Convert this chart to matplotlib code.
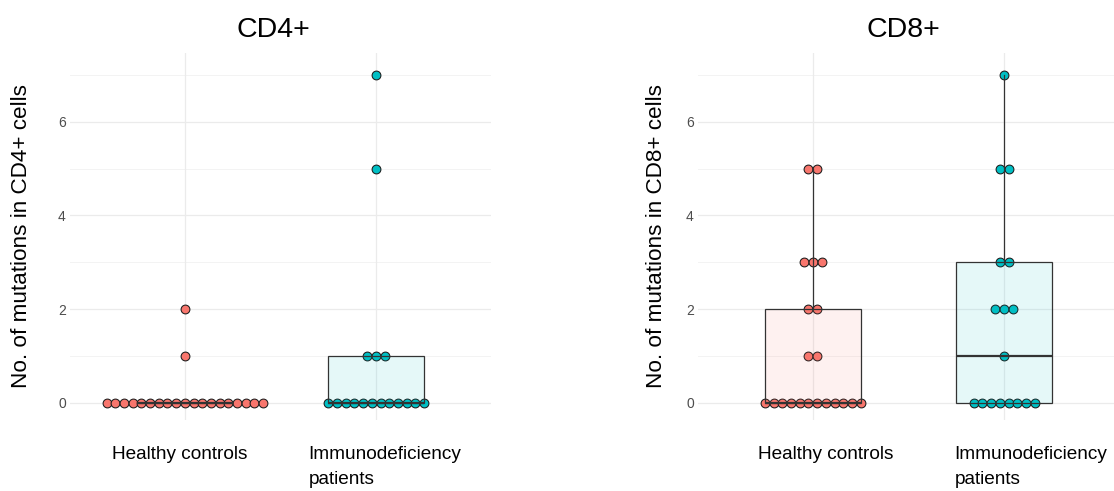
import numpy as np
import matplotlib
matplotlib.use("Agg")
import matplotlib.pyplot as plt
import matplotlib.transforms as mtransforms
from collections import Counter

plt.rcParams['font.family'] = ['Liberation Sans', 'DejaVu Sans']

groups = ["Healthy controls", "Immunodeficiency\npatients"]
group_colors = ["#F8766D", "#00BFC4"]

cd4_healthy = [0, 0, 0, 0, 0, 0, 0, 0, 0, 0, 0, 0, 0, 0, 0, 0, 0, 0, 0, 1, 2]
cd4_immuno = [0, 0, 0, 0, 0, 0, 0, 0, 0, 0, 0, 0, 1, 1, 1, 5, 7]
cd8_healthy = [0, 0, 0, 0, 0, 0, 0, 0, 0, 0, 0, 0, 1, 1, 2, 2, 3, 3, 3, 5, 5]
cd8_immuno = [0, 0, 0, 0, 0, 0, 0, 0, 1, 2, 2, 2, 3, 3, 5, 5, 7]

panels = [
    ("CD4+", "No. of mutations in CD4+ cells", [cd4_healthy, cd4_immuno]),
    ("CD8+", "No. of mutations in CD8+ cells", [cd8_healthy, cd8_immuno]),
]

W, H, DPI = 1114, 491, 100
fig = plt.figure(figsize=(W / DPI, H / DPI), dpi=DPI)

XLIM = (0.4, 2.6)
YLIM = (-0.37, 7.47)
ax_w_px = 421
ax_h_px = 367
ax_bottom_px = 420

# per-panel layout (pixels): axes left, y-label centre, title centre, x-label shifts
layout = [
    dict(left=70, ylab_x=22, title_x=273, label_shift=[-5, 9]),
    dict(left=698, ylab_x=657, title_x=903, label_shift=[13, 27]),
]

dot_px = 8.8
dot_size = (dot_px * 72 / DPI) ** 2

for (title, ylabel, data), lay in zip(panels, layout):
    left_px = lay["left"]
    ax = fig.add_axes([left_px / W, (H - ax_bottom_px) / H, ax_w_px / W, ax_h_px / H])
    ax.set_xlim(*XLIM)
    ax.set_ylim(*YLIM)

    step = 8.7 / (ax_w_px / (XLIM[1] - XLIM[0]))

    # grid (theme_minimal look)
    for y in [0, 2, 4, 6]:
        ax.axhline(y, color="#EBEBEB", lw=0.9, zorder=0)
    for y in [1, 3, 5, 7]:
        ax.axhline(y, color="#F3F3F3", lw=0.7, zorder=0)
    for x in [1, 2]:
        ax.axvline(x, color="#EBEBEB", lw=0.9, zorder=0)

    # centred dot stacks
    for gi, (vals, col) in enumerate(zip(data, group_colors)):
        pos = gi + 1
        counts = Counter(vals)
        xs, ys = [], []
        for v, n in sorted(counts.items()):
            for i in range(n):
                xs.append(pos + (i - (n - 1) / 2) * step)
                ys.append(v)
        ax.scatter(xs, ys, s=dot_size, facecolor=col, edgecolor="#1a1a1a",
                   linewidth=0.75, zorder=3)

    # boxplots on top of the dots
    bp = ax.boxplot(data, positions=[1, 2], widths=0.5, whis=1.5,
                    showfliers=False, showcaps=False, patch_artist=True,
                    zorder=4)
    for patch, col in zip(bp["boxes"], group_colors):
        patch.set_facecolor(matplotlib.colors.to_rgba(col, 0.1))
        patch.set_edgecolor("#333333")
        patch.set_linewidth(0.9)
    for w in bp["whiskers"]:
        w.set_color("#333333")
        w.set_linewidth(0.9)
    for m in bp["medians"]:
        m.set_color("#333333")
        m.set_linewidth(1.6)

    # category labels below the panel
    ax.set_xticks([1, 2])
    ax.set_xticklabels([])
    base = mtransforms.blended_transform_factory(ax.transData, ax.transAxes)
    for pos, (name, dx) in enumerate(zip(groups, lay["label_shift"]), start=1):
        tr = base + mtransforms.ScaledTranslation(dx / DPI, -26 / DPI, fig.dpi_scale_trans)
        ax.text(pos, 0, name, transform=tr, fontsize=13.7, color="black",
                ha="center", va="top", multialignment="left", linespacing=1.62)

    ax.set_yticks([0, 2, 4, 6])
    ax.set_yticklabels(["0", "2", "4", "6"], fontsize=10, color="#4D4D4D")
    ax.tick_params(axis="both", length=0)
    ax.tick_params(axis="y", pad=3)
    for s in ax.spines.values():
        s.set_visible(False)
    ax.set_xlim(*XLIM)
    ax.set_ylim(*YLIM)

    ax.set_ylabel(ylabel, fontsize=16.2)
    ax.yaxis.label.set_va("center")
    ax.yaxis.set_label_coords((lay["ylab_x"] - left_px) / ax_w_px, 0.5)
    fig.text(lay["title_x"] / W, 1 - 30 / H, title, fontsize=20.5,
             ha="center", va="center")

fig.savefig("out.png", dpi=DPI)
